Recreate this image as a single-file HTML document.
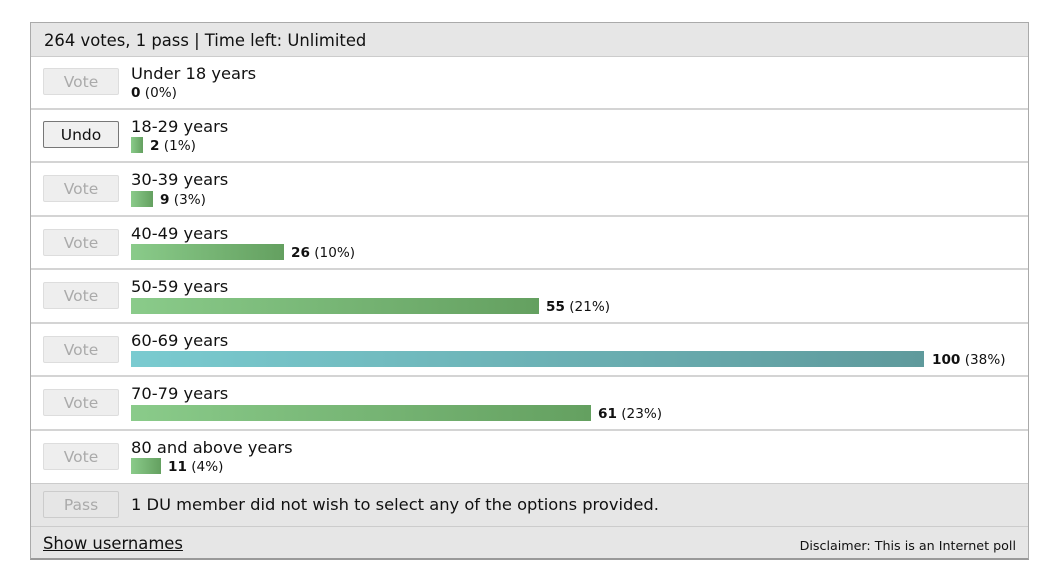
<!DOCTYPE html>
<html><head><style>
body{margin:0;background:#fff;font-family:"DejaVu Sans","Liberation Sans",sans-serif;color:#111;}
.box{position:absolute;left:30px;top:22px;width:997px;height:535px;border:1px solid #aaa;border-bottom:2px solid #999;}
.hdr{position:absolute;left:0;top:0;width:997px;height:33px;background:#e6e6e6;border-bottom:1px solid #ccc;font-size:16.4px;line-height:35px;}
.hdr span{margin-left:13px}
.row{position:absolute;left:0;width:997px;border-bottom:2px solid #d4d4d4;background:#fff}
.btn{position:absolute;left:12px;width:74px;height:25px;border:1px solid #ddd;border-radius:2px;background:#eee;color:#aaa;font-size:15.5px;text-align:center;line-height:26px;}
.btn.u{border:1px solid #777;color:#111;background:#f0f0f0}
.lbl{position:absolute;left:100px;font-size:16.3px;}
.bar{position:absolute;left:100px;height:16px;background:linear-gradient(90deg,#8acb8a,#64a060);}
.bar.b{background:linear-gradient(90deg,#7acbd0,#5f9a9c);}
.num{position:absolute;font-size:13.6px;}
.num b{font-weight:bold}
</style></head><body>
<div class="box">
<div class="hdr"><span>264 votes, 1 pass | Time left: Unlimited</span></div>

<div class="row" style="top:34px;height:51px"><div class="btn" style="top:11px">Vote</div><div class="lbl" style="top:7px">Under 18 years</div><div class="num" style="left:100px;top:28px"><b>0</b> (0%)</div></div>
<div class="row" style="top:87px;height:51px"><div class="btn u" style="top:11px">Undo</div><div class="lbl" style="top:7px">18-29 years</div><div class="bar" style="top:27px;width:12px"></div><div class="num" style="left:119px;top:28px"><b>2</b> (1%)</div></div>
<div class="row" style="top:140px;height:52px"><div class="btn" style="top:12px">Vote</div><div class="lbl" style="top:7px">30-39 years</div><div class="bar" style="top:28px;width:22px"></div><div class="num" style="left:129px;top:29px"><b>9</b> (3%)</div></div>
<div class="row" style="top:194px;height:51px"><div class="btn" style="top:12px">Vote</div><div class="lbl" style="top:7px">40-49 years</div><div class="bar" style="top:27px;width:153px"></div><div class="num" style="left:260px;top:28px"><b>26</b> (10%)</div></div>
<div class="row" style="top:247px;height:52px"><div class="btn" style="top:12px">Vote</div><div class="lbl" style="top:7px">50-59 years</div><div class="bar" style="top:28px;width:408px"></div><div class="num" style="left:515px;top:29px"><b>55</b> (21%)</div></div>
<div class="row" style="top:301px;height:51px"><div class="btn" style="top:12px">Vote</div><div class="lbl" style="top:7px">60-69 years</div><div class="bar b" style="top:27px;width:793px"></div><div class="num" style="left:901px;top:28px"><b>100</b> (38%)</div></div>
<div class="row" style="top:354px;height:52px"><div class="btn" style="top:12px">Vote</div><div class="lbl" style="top:7px">70-79 years</div><div class="bar" style="top:28px;width:460px"></div><div class="num" style="left:567px;top:29px"><b>61</b> (23%)</div></div>
<div class="row" style="top:408px;height:52px;border-bottom:1px solid #ccc"><div class="btn" style="top:12px">Vote</div><div class="lbl" style="top:7px">80 and above years</div><div class="bar" style="top:27px;width:30px"></div><div class="num" style="left:137px;top:28px"><b>11</b> (4%)</div></div>

<div class="row" style="top:461px;height:42px;background:#e6e6e6;border-bottom:1px solid #ccc"><div class="btn" style="top:7px;background:#e6e6e6;border-color:#ccc">Pass</div><div class="lbl" style="top:11px">1 DU member did not wish to select any of the options provided.</div></div>
<div class="row" style="top:504px;height:31px;background:#e6e6e6;border:none"><div style="position:absolute;left:12px;top:7px;font-size:16.4px;text-decoration:underline">Show usernames</div><div style="position:absolute;right:12px;top:11px;font-size:12.7px">Disclaimer: This is an Internet poll</div></div>
</div>
</body></html>
